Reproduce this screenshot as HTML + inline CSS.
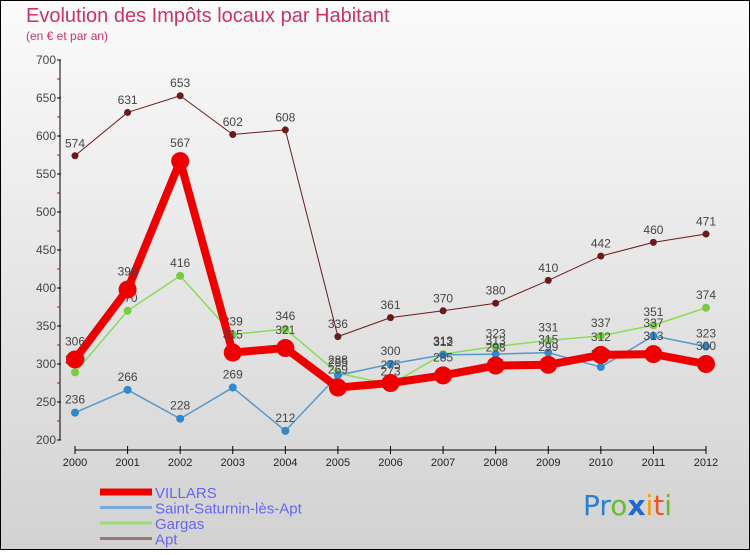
<!DOCTYPE html>
<html><head><meta charset="utf-8">
<style>
html,body{margin:0;padding:0}
body{width:750px;height:550px;overflow:hidden;font-family:"Liberation Sans",sans-serif}
</style></head>
<body>
<svg id="chart" width="750" height="550" xmlns="http://www.w3.org/2000/svg">
<defs>
<linearGradient id="bg" x1="0" y1="0" x2="0" y2="1">
<stop offset="0" stop-color="#fbfbfb"/><stop offset="1" stop-color="#d2d2d2"/>
</linearGradient>
</defs>
<rect x="0" y="0" width="750" height="550" fill="url(#bg)" stroke="#000" stroke-width="2"/>
<text x="26" y="22" font-size="20" fill="#cc3366">Evolution des Impôts locaux par Habitant</text>
<text x="26" y="40" font-size="12" fill="#cc3366">(en € et par an)</text>
<g id="axes"></g>
<g id="series"></g>
<g id="legend"></g>
<text x="583" y="515" font-size="28" font-family="DejaVu Sans, sans-serif"><tspan fill="#2a7fcf">Pr</tspan><tspan fill="#66bb33">o</tspan><tspan fill="#2266cc" font-weight="bold">x</tspan><tspan fill="#ff9900">i</tspan><tspan fill="#ee5522">t</tspan><tspan fill="#66bb33">i</tspan></text>
</svg>
<script>
const years = [2000,2001,2002,2003,2004,2005,2006,2007,2008,2009,2010,2011,2012];
const yTicks = [200,250,300,350,400,450,500,550,600,650,700];
const villars = [306,398,567,315,321,269,275,285,298,299,312,313,300];
const saintSaturnin = [236,266,228,269,212,285,300,312,313,315,296,337,323];
const gargas = [289,370,416,339,346,288,273,313,323,331,337,351,374];
const apt = [574,631,653,602,608,336,361,370,380,410,442,460,471];
const seriesNames = ["VILLARS","Saint-Saturnin-lès-Apt","Gargas","Apt"];

const NS="http://www.w3.org/2000/svg";
function xs(i){return 75+i*(706-75)/(years.length-1);}
function ys(v){return 440-(v-200)*0.76;}
function mk(tag,attrs,parent){const e=document.createElementNS(NS,tag);for(const k in attrs)e.setAttribute(k,attrs[k]);parent.appendChild(e);return e;}
const axes=document.getElementById('axes');
let yl=mk('line',{x1:60,y1:ys(700),x2:60,y2:ys(200),stroke:'#000','stroke-width':1},axes);


let xl=mk('line',{x1:75,y1:450,x2:706,y2:450,stroke:'#000','stroke-width':1},axes);


yTicks.forEach((t,i)=>{
  mk('line',{x1:57,y1:ys(t),x2:61,y2:ys(t),stroke:'#000'},axes);
  if(i<yTicks.length-1) mk('line',{x1:57,y1:ys(t+25),x2:60,y2:ys(t+25),stroke:'#e00'},axes);
  const tx=mk('text',{x:56,y:ys(t)+4,'font-size':12,'text-anchor':'end',fill:'#444'},axes);
  tx.textContent=t;
  
  
});
years.forEach((y,i)=>{
  mk('line',{x1:xs(i),y1:446,x2:xs(i),y2:454,stroke:'#000'},axes);
  const tx=mk('text',{x:xs(i),y:466,'font-size':11,'text-anchor':'middle',fill:'#222'},axes);
  tx.textContent=y;
  
  
});
const ser=document.getElementById('series');
const defs=[
 {d:apt,c:'#6b1a1a',w:1,r:3.5,name:'apt'},
 {d:gargas,c:'#88dd55',w:1.5,r:4,name:'gargas'},
 {d:saintSaturnin,c:'#5599cc',w:1.5,r:4,name:'saint-saturnin'},
 {d:villars,c:'#ee0000',w:8,r:9,name:'villars'}
];
const dotColors={apt:'#6b1a1a',gargas:'#77cc44',"saint-saturnin":'#3388cc',villars:'#ee0000'};
defs.forEach(s=>{
  const g=mk('g',{},ser);
  
  
  const pts=s.d.map((v,i)=>xs(i)+','+ys(v)).join(' ');
  const pl=mk('polyline',{points:pts,fill:'none',stroke:s.c,'stroke-width':s.w,'stroke-linejoin':'round'},g);
  
  
  s.d.forEach((v,i)=>{
    const c=mk('circle',{cx:xs(i),cy:ys(v),r:s.r,fill:dotColors[s.name]},g);
    
    
    const t=mk('text',{x:xs(i),y:ys(v)-(s.r+5),'font-size':12,'text-anchor':'middle',fill:'#444'},g);
    t.textContent=v;
    
    
  });
});
const leg=document.getElementById('legend');
const lc=['#ee0000','#77aadd','#99dd77','#997777'];
const lw=[7,3,3,3];
seriesNames.forEach((n,i)=>{
  const y=492+i*15.5;
  const g=mk('g',{},leg);
  
  
  mk('line',{x1:100,y1:y,x2:152,y2:y,stroke:lc[i],'stroke-width':lw[i]},g);
  const t=mk('text',{x:155,y:y+6,'font-size':15,fill:'#6666ee'},g);
  t.textContent=n;
});
</script>
</body></html>
